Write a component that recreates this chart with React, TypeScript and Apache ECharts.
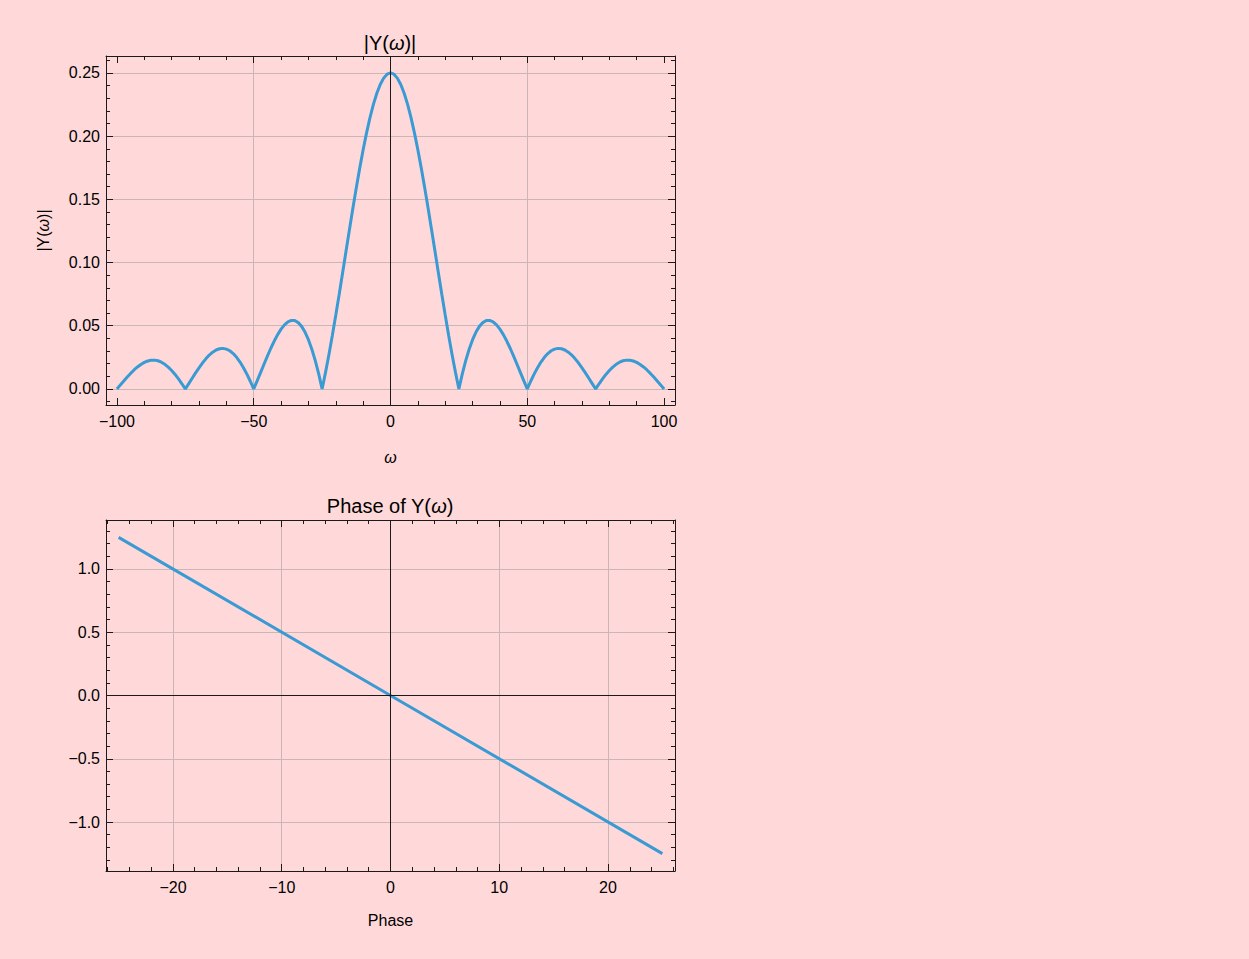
import React, { useEffect, useRef } from "react";
import * as echarts from "echarts";

// ---------- data ----------
const omega = [
  -100, -98.75, -97.5, -96.25, -95, -93.75, -92.5, -91.25,
  -90, -88.75, -87.5, -86.25, -85, -83.75, -82.5, -81.25,
  -80, -78.75, -77.5, -76.25, -75, -73.75, -72.5, -71.25,
  -70, -68.75, -67.5, -66.25, -65, -63.75, -62.5, -61.25,
  -60, -58.75, -57.5, -56.25, -55, -53.75, -52.5, -51.25,
  -50, -48.75, -47.5, -46.25, -45, -43.75, -42.5, -41.25,
  -40, -38.75, -37.5, -36.25, -35, -33.75, -32.5, -31.25,
  -30, -28.75, -27.5, -26.25, -25, -23.75, -22.5, -21.25,
  -20, -18.75, -17.5, -16.25, -15, -13.75, -12.5, -11.25,
  -10, -8.75, -7.5, -6.25, -5, -3.75, -2.5, -1.25,
  0,
  1.25, 2.5, 3.75, 5, 6.25, 7.5, 8.75, 10,
  11.25, 12.5, 13.75, 15, 16.25, 17.5, 18.75, 20,
  21.25, 22.5, 23.75, 25, 26.25, 27.5, 28.75, 30,
  31.25, 32.5, 33.75, 35, 36.25, 37.5, 38.75, 40,
  41.25, 42.5, 43.75, 45, 46.25, 47.5, 48.75, 50,
  51.25, 52.5, 53.75, 55, 56.25, 57.5, 58.75, 60,
  61.25, 62.5, 63.75, 65, 66.25, 67.5, 68.75, 70,
  71.25, 72.5, 73.75, 75, 76.25, 77.5, 78.75, 80,
  81.25, 82.5, 83.75, 85, 86.25, 87.5, 88.75, 90,
  91.25, 92.5, 93.75, 95, 96.25, 97.5, 98.75, 100,
];

const magnitude = [
  0, 0.0032, 0.0063, 0.0094, 0.0123, 0.015, 0.0174, 0.0194,
  0.021, 0.0221, 0.0227, 0.0228, 0.0223, 0.0212, 0.0195, 0.0173,
  0.0146, 0.0115, 0.0079, 0.0041, 0, 0.0042, 0.0085, 0.0127,
  0.0167, 0.0205, 0.0238, 0.0268, 0.0291, 0.0308, 0.0318, 0.0321,
  0.0315, 0.0302, 0.028, 0.025, 0.0213, 0.0168, 0.0117, 0.0061,
  0, 0.0064, 0.0129, 0.0195, 0.026, 0.0322, 0.0379, 0.043,
  0.0473, 0.0507, 0.0531, 0.0542, 0.0541, 0.0525, 0.0495, 0.045,
  0.039, 0.0314, 0.0224, 0.0119, 0, 0.0131, 0.0273, 0.0425,
  0.0585, 0.075, 0.092, 0.1091, 0.1261, 0.1429, 0.1592, 0.1747,
  0.1892, 0.2026, 0.2146, 0.2251, 0.2339, 0.2409, 0.2459, 0.249,
  0.25,
  0.249, 0.2459, 0.2409, 0.2339, 0.2251, 0.2146, 0.2026, 0.1892,
  0.1747, 0.1592, 0.1429, 0.1261, 0.1091, 0.092, 0.075, 0.0585,
  0.0425, 0.0273, 0.0131, 0, 0.0119, 0.0224, 0.0314, 0.039,
  0.045, 0.0495, 0.0525, 0.0541, 0.0542, 0.0531, 0.0507, 0.0473,
  0.043, 0.0379, 0.0322, 0.026, 0.0195, 0.0129, 0.0064, 0,
  0.0061, 0.0117, 0.0168, 0.0213, 0.025, 0.028, 0.0302, 0.0315,
  0.0321, 0.0318, 0.0308, 0.0291, 0.0268, 0.0238, 0.0205, 0.0167,
  0.0127, 0.0085, 0.0042, 0, 0.0041, 0.0079, 0.0115, 0.0146,
  0.0173, 0.0195, 0.0212, 0.0223, 0.0228, 0.0227, 0.0221, 0.021,
  0.0194, 0.0174, 0.015, 0.0123, 0.0094, 0.0063, 0.0032, 0,
];

const phaseOmega = [-25, 0, 25];
const phaseValues = [1.25, 0, -1.25];

// tick labels / tick positions / grid lines
const magXMajor = [-100, -50, 0, 50, 100];
const magXMinor = [-90, -80, -70, -60, -40, -30, -20, -10, 10, 20, 30, 40, 60, 70, 80, 90];
const magXGrid = [-50, 50];
const magYMajor = [0, 0.05, 0.1, 0.15, 0.2, 0.25];
const magYMinor = [-0.01, 0.01, 0.02, 0.03, 0.04, 0.06, 0.07, 0.08, 0.09, 0.11, 0.12, 0.13, 0.14, 0.16, 0.17, 0.18, 0.19, 0.21, 0.22, 0.23, 0.24, 0.26];
const magYGrid = [0, 0.05, 0.1, 0.15, 0.2, 0.25];
const phXMajor = [-20, -10, 0, 10, 20];
const phXMinor = [-26, -24, -22, -18, -16, -14, -12, -8, -6, -4, -2, 2, 4, 6, 8, 12, 14, 16, 18, 22, 24, 26];
const phXGrid = [-20, -10, 10, 20];
const phYMajor = [-1, -0.5, 0, 0.5, 1];
const phYMinor = [-1.3, -1.2, -1.1, -0.9, -0.8, -0.7, -0.6, -0.4, -0.3, -0.2, -0.1, 0.1, 0.2, 0.3, 0.4, 0.6, 0.7, 0.8, 0.9, 1.1, 1.2, 1.3];
const phYGrid = [-1, -0.5, 0.5, 1];

const FONT = "'Liberation Sans', Arial, sans-serif";
const FRAME = "#1a1a1a";
const GRID = "#c9b6b6";
const LINE = "#3a9ad3";
const BG = "#ffd9d9";
const TICK_FS = 16;
const NAME_FS = 16;
const TITLE_FS = 20;

const minus = (s: string) => s.replace(/-/g, "\u2212");

function App() {
  const ref = useRef<HTMLDivElement>(null);

  useEffect(() => {
    document.body.style.margin = "0";
    const chart = echarts.init(ref.current!, undefined, { renderer: "svg" });

    const xAxes: any[] = [];
    const yAxes: any[] = [];

    const makeAxes = (
      dim: "x" | "y",
      gridIndex: number,
      min: number,
      max: number,
      major: number[],
      minor: number[],
      gridVals: number[],
      fmt: (v: number) => string,
      name: string,
      nameGap: number,
      italicName: boolean
    ) => {
      const list = dim === "x" ? xAxes : yAxes;
      const sides = dim === "x" ? ["bottom", "top"] : ["left", "right"];
      const start = list.length;
      sides.forEach((pos, si) => {
        // major ticks + frame line (+ labels on first side)
        list.push({
          type: "value",
          gridIndex,
          position: pos,
          min,
          max,
          name: si === 0 ? name : "",
          nameLocation: "middle",
          nameGap,
          nameTextStyle: {
            fontFamily: FONT,
            fontSize: NAME_FS,
            color: "#000",
            fontStyle: italicName ? "italic" : "normal",
            rich: {
              i: { fontFamily: FONT, fontSize: NAME_FS, fontStyle: "italic", color: "#000" },
            },
          },
          axisLine: { show: true, onZero: false, lineStyle: { color: FRAME, width: 1 } },
          axisTick: {
            show: true,
            inside: true,
            length: 7,
            customValues: major,
            lineStyle: { color: FRAME, width: 1 },
          },
          axisLabel: {
            show: si === 0,
            customValues: major,
            formatter: (v: number) => fmt(v),
            fontFamily: FONT,
            fontSize: TICK_FS,
            color: "#000",
            margin: dim === "x" ? 8 : 6,
          },
          splitLine: { show: false },
        });
        // minor ticks
        list.push({
          type: "value",
          gridIndex,
          position: pos,
          min,
          max,
          axisLine: { show: false, onZero: false },
          axisTick: {
            show: true,
            inside: true,
            length: 4,
            customValues: minor,
            lineStyle: { color: FRAME, width: 1 },
          },
          axisLabel: { show: false },
          splitLine: { show: false },
        });
      });
      // grid lines
      list.push({
        type: "value",
        gridIndex,
        position: sides[0],
        min,
        max,
        axisLine: { show: false, onZero: false },
        axisTick: { show: false, customValues: gridVals },
        axisLabel: { show: false, customValues: gridVals },
        splitLine: { show: true, lineStyle: { color: GRID, width: 1 } },
        z: 0,
      });
      return start;
    };

    const magX = makeAxes("x", 0, -104, 104, magXMajor, magXMinor, magXGrid, (v) => minus(String(v)), "ω", 44, true);
    const magY = makeAxes("y", 0, -0.0127, 0.2634, magYMajor, magYMinor, magYGrid, (v) => v.toFixed(2), "|Y({i|ω})|", 55, false);
    const phX = makeAxes("x", 1, -26.16, 26.16, phXMajor, phXMinor, phXGrid, (v) => minus(String(v)), "Phase", 41, false);
    const phY = makeAxes("y", 1, -1.387, 1.387, phYMajor, phYMinor, phYGrid, (v) => minus(v.toFixed(1)), "", 50, false);

    const zeroLine = (data: any[]) => ({
      silent: true,
      symbol: ["none", "none"],
      label: { show: false },
      emphasis: { disabled: true },
      lineStyle: { color: FRAME, type: "solid", width: 1 },
      data,
    });

    const titleStyle = {
      fontFamily: FONT,
      fontSize: TITLE_FS,
      fontWeight: "normal",
      color: "#000",
      rich: { i: { fontFamily: FONT, fontSize: TITLE_FS, fontStyle: "italic", color: "#000" } },
    };

    const option: any = {
      animation: false,
      backgroundColor: BG,
      title: [
        { text: "|Y({i|ω})|", left: 390, top: 33, textAlign: "center", textStyle: titleStyle, padding: 0 },
        { text: "Phase of Y({i|ω})", left: 390, top: 496, textAlign: "center", textStyle: titleStyle, padding: 0 },
      ],
      grid: [
        { left: 106, width: 569, top: 56, height: 349, containLabel: false },
        { left: 106, width: 569, top: 520, height: 351, containLabel: false },
      ],
      xAxis: xAxes,
      yAxis: yAxes,
      series: [
        {
          type: "line",
          name: "|Y(ω)|",
          xAxisIndex: magX,
          yAxisIndex: magY,
          data: omega.map((w, i) => [w, magnitude[i]]),
          showSymbol: false,
          symbol: "none",
          lineStyle: { color: LINE, width: 3 },
          markLine: zeroLine([{ xAxis: 0 }]),
          z: 3,
        },
        {
          type: "line",
          name: "Phase",
          xAxisIndex: phX,
          yAxisIndex: phY,
          data: phaseOmega.map((w, i) => [w, phaseValues[i]]),
          showSymbol: false,
          symbol: "none",
          lineStyle: { color: LINE, width: 3 },
          markLine: zeroLine([{ xAxis: 0 }, { yAxis: 0 }]),
          z: 3,
        },
      ],
    };

    chart.setOption(option);
    return () => chart.dispose();
  }, []);

  return (
    <div
      ref={ref}
      style={{ position: "absolute", left: 0, top: 0, width: 1249, height: 959, background: BG }}
    />
  );
}

export default App;
